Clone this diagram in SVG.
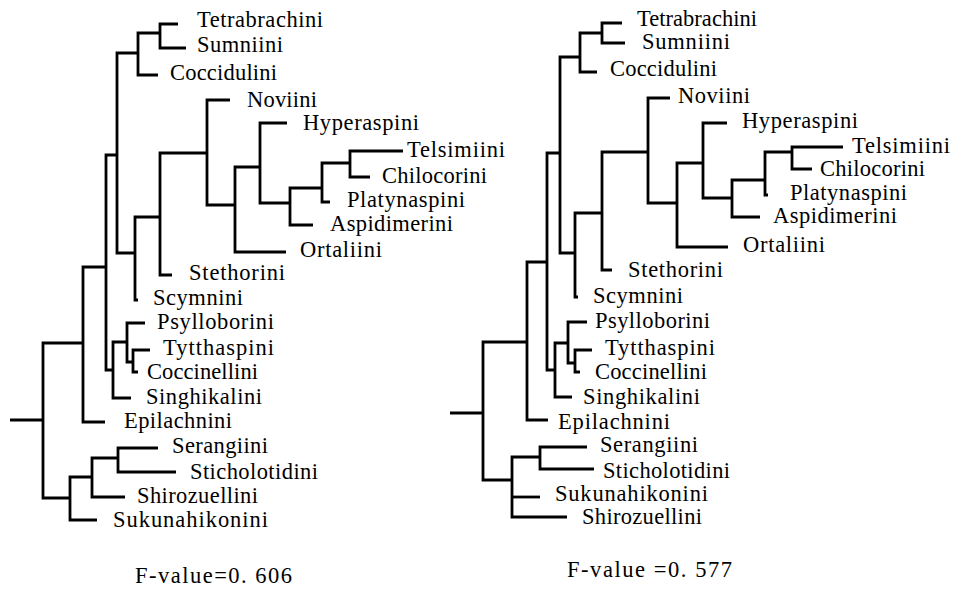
<svg xmlns="http://www.w3.org/2000/svg" width="957" height="591" viewBox="0 0 957 591">
<style>
.e{fill:none;stroke:#000;stroke-width:2.8;stroke-linejoin:miter;stroke-linecap:butt}
text{font-family:"Liberation Serif","Times New Roman",serif;font-size:22.5px;fill:#000}
</style>
<rect width="957" height="591" fill="#fff"/>
<g id="connectors-left">
<path class="e" d="M10,420 H43"/>
<path class="e" d="M83,343 H43 V498 H70"/>
<path class="e" d="M106,267 H83 V422 H105"/>
<path class="e" d="M117,155 H106 V370 H113"/>
<path class="e" d="M138,53 H117 V253 H135"/>
<path class="e" d="M160,33 H138 V75 H158"/>
<path class="e" d="M178,24 H160 V48 H186"/>
<path class="e" d="M160,217 H135 V300 H138"/>
<path class="e" d="M207,153 H160 V275 H172"/>
<path class="e" d="M230,100 H207 V205 H235"/>
<path class="e" d="M260,167 H235 V252 H286"/>
<path class="e" d="M287,123 H260 V203 H290"/>
<path class="e" d="M322,188 H290 V225 H313"/>
<path class="e" d="M350,163 H322 V202 H330"/>
<path class="e" d="M403,151 H350 V177 H370"/>
<path class="e" d="M127,342 H113 V398 H131"/>
<path class="e" d="M145,323 H127 V362 H133"/>
<path class="e" d="M150,350 H133 V372 H138"/>
<path class="e" d="M92,477 H70 V520 H97"/>
<path class="e" d="M118,458 H92 V497 H125"/>
<path class="e" d="M158,448 H118 V472 H176"/>
</g>
<g id="connectors-right">
<path class="e" d="M450,413 H483"/>
<path class="e" d="M527,342 H483 V480 H512"/>
<path class="e" d="M547,262 H527 V420 H548"/>
<path class="e" d="M560,153 H547 V370 H555"/>
<path class="e" d="M580,57 H560 V253 H575"/>
<path class="e" d="M602,33 H580 V72 H597"/>
<path class="e" d="M622,23 H602 V43 H625"/>
<path class="e" d="M602,213 H575 V297 H578"/>
<path class="e" d="M648,152 H602 V270 H612"/>
<path class="e" d="M670,98 H648 V203 H677"/>
<path class="e" d="M703,163 H677 V247 H728"/>
<path class="e" d="M727,123 H703 V198 H732"/>
<path class="e" d="M765,180 H732 V217 H760"/>
<path class="e" d="M792,152 H765 V195 H768"/>
<path class="e" d="M843,147 H792 V169 H812"/>
<path class="e" d="M568,343 H555 V397 H572"/>
<path class="e" d="M587,322 H568 V363 H575"/>
<path class="e" d="M592,350 H575 V372 H580"/>
<path class="e" d="M540,457 H512 V517 H567"/>
<path class="e" d="M512,497 H540"/>
<path class="e" d="M587,447 H540 V469 H594"/>
</g>
<g id="tree-left">
<g id="L-Tetrabrachini"><text x="197" y="27" textLength="126">Tetrabrachini</text></g>
<g id="L-Sumniini"><text x="197" y="52" textLength="86">Sumniini</text></g>
<g id="L-Coccidulini"><text x="170" y="80" textLength="107">Coccidulini</text></g>
<g id="L-Noviini"><text x="247" y="107" textLength="70">Noviini</text></g>
<g id="L-Hyperaspini"><text x="303" y="130" textLength="116">Hyperaspini</text></g>
<g id="L-Telsimiini"><text x="407" y="157" textLength="98">Telsimiini</text></g>
<g id="L-Chilocorini"><text x="382" y="183" textLength="105">Chilocorini</text></g>
<g id="L-Platynaspini"><text x="347" y="207" textLength="118">Platynaspini</text></g>
<g id="L-Aspidimerini"><text x="330" y="231" textLength="123">Aspidimerini</text></g>
<g id="L-Ortaliini"><text x="300" y="257" textLength="82">Ortaliini</text></g>
<g id="L-Stethorini"><text x="189" y="280" textLength="96">Stethorini</text></g>
<g id="L-Scymnini"><text x="153" y="305" textLength="90">Scymnini</text></g>
<g id="L-Psylloborini"><text x="157" y="329" textLength="117">Psylloborini</text></g>
<g id="L-Tytthaspini"><text x="163" y="355" textLength="111">Tytthaspini</text></g>
<g id="L-Coccinellini"><text x="147" y="379" textLength="111">Coccinellini</text></g>
<g id="L-Singhikalini"><text x="146" y="404" textLength="116">Singhikalini</text></g>
<g id="L-Epilachnini"><text x="124" y="428" textLength="108">Epilachnini</text></g>
<g id="L-Serangiini"><text x="172" y="453" textLength="96">Serangiini</text></g>
<g id="L-Sticholotidini"><text x="190" y="479" textLength="128">Sticholotidini</text></g>
<g id="L-Shirozuellini"><text x="137" y="503" textLength="121">Shirozuellini</text></g>
<g id="L-Sukunahikonini"><text x="113" y="527" textLength="155">Sukunahikonini</text></g>
<g id="L-fvalue"><text x="135" y="583" textLength="157">F-value=0. 606</text></g>
</g>
<g id="tree-right">
<g id="R-Tetrabrachini"><text x="637" y="26" textLength="120">Tetrabrachini</text></g>
<g id="R-Sumniini"><text x="642" y="49" textLength="88">Sumniini</text></g>
<g id="R-Coccidulini"><text x="610" y="76" textLength="107">Coccidulini</text></g>
<g id="R-Noviini"><text x="678" y="103" textLength="72">Noviini</text></g>
<g id="R-Hyperaspini"><text x="742" y="128" textLength="116">Hyperaspini</text></g>
<g id="R-Telsimiini"><text x="852" y="153" textLength="98">Telsimiini</text></g>
<g id="R-Chilocorini"><text x="820" y="176" textLength="105">Chilocorini</text></g>
<g id="R-Platynaspini"><text x="790" y="200" textLength="117">Platynaspini</text></g>
<g id="R-Aspidimerini"><text x="773" y="223" textLength="124">Aspidimerini</text></g>
<g id="R-Ortaliini"><text x="743" y="252" textLength="82">Ortaliini</text></g>
<g id="R-Stethorini"><text x="628" y="277" textLength="95">Stethorini</text></g>
<g id="R-Scymnini"><text x="593" y="303" textLength="90">Scymnini</text></g>
<g id="R-Psylloborini"><text x="595" y="328" textLength="115">Psylloborini</text></g>
<g id="R-Tytthaspini"><text x="605" y="355" textLength="110">Tytthaspini</text></g>
<g id="R-Coccinellini"><text x="595" y="379" textLength="112">Coccinellini</text></g>
<g id="R-Singhikalini"><text x="583" y="404" textLength="117">Singhikalini</text></g>
<g id="R-Epilachnini"><text x="558" y="429" textLength="112">Epilachnini</text></g>
<g id="R-Serangiini"><text x="600" y="452" textLength="98">Serangiini</text></g>
<g id="R-Sticholotidini"><text x="603" y="478" textLength="127">Sticholotidini</text></g>
<g id="R-Sukunahikonini"><text x="555" y="501" textLength="153">Sukunahikonini</text></g>
<g id="R-Shirozuellini"><text x="582" y="524" textLength="120">Shirozuellini</text></g>
<g id="R-fvalue"><text x="567" y="577" textLength="165">F-value =0. 577</text></g>
</g>
</svg>
